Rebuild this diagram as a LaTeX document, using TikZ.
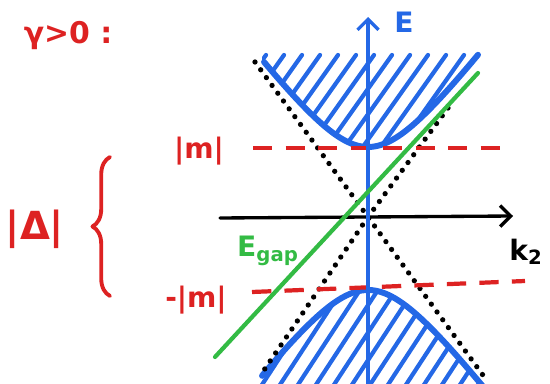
\documentclass[tikz,border=0pt]{standalone}
\usepackage{fontspec}
\setmainfont{DejaVu Sans}
\usetikzlibrary{arrows.meta, positioning, calc, decorations.pathreplacing}
\definecolor{penblue}{HTML}{2468E6}
\definecolor{penred}{HTML}{DD2222}
\definecolor{pengreen}{HTML}{33BB44}

\begin{document}
\begin{tikzpicture}[
  x=0.02cm, y=-0.02cm,
  declare function={upper(\x)=217-100*sqrt(0.49+1.77*((\x-368)/100)^2);
                    lower(\x)=217+100*sqrt(0.5329+1.77*((\x-368)/100)^2);},
  marker/.style={line width=#1, line cap=round, line join=round},
  marker/.default=2pt,
  axis/.style={marker=1.9pt, -{Straight Barb[length=6pt,width=12pt,line width=1.9pt]}},
  band/.style={penblue, marker=3.4pt},
  hatch/.style={penblue, marker=2.4pt},
  level/.style={penred, line width=2.4pt, dash pattern=on 11pt off 7.5pt},
  cone/.style={black, line width=3pt, line cap=round, dash pattern=on 0pt off 5.5pt},
  lbl/.style={font=\fontsize{16}{16}\selectfont\bfseries, inner sep=1pt},
]
\useasboundingbox (0,0) rectangle (550,384);

%% Reference points
\coordinate (origin) at (368,217);

%% Upper band, hatched
\begin{scope}
  \clip plot[domain=262:480, samples=60] (\x,{upper(\x)}) -- (480,0) -- (262,0) -- cycle;
  \foreach \o in {188,206,...,420}
    \draw[hatch] (\o,165) -- (\o+78,55);
\end{scope}
\draw[band] plot[domain=264:478, samples=60] (\x,{upper(\x)});

%% Lower band, hatched
\begin{scope}
  \clip plot[domain=256:492, samples=60] (\x,{lower(\x)}) -- (492,400) -- (256,400) -- cycle;
  \foreach \o in {180,198,...,470}
    \draw[hatch] (\o,400) -- (\o+85,270);
\end{scope}
\draw[band] plot[domain=262:486, samples=60] (\x,{lower(\x)});

%% Dirac cone (dotted)
\coordinate (coneA1) at (255,62);
\coordinate (coneA2) at (485,378);
\coordinate (coneB1) at (448,108);
\coordinate (coneB2) at (262,373);
\draw[cone] (coneA1) -- (origin) -- (coneA2);
\draw[cone] (coneB1) -- (origin) -- (coneB2);

%% Mass levels
\coordinate (mtopL) at (253,148);
\coordinate (mtopR) at (510,148);
\coordinate (mbotL) at (252,292);
\coordinate (mbotR) at (525,281);
\draw[level] (mtopL) -- (mtopR);
\draw[level] (mbotL) -- (mbotR);

%% Axes
\coordinate (Ebot) at (368,384);
\coordinate (Etop) at (368,17);
\coordinate (kleft) at (220,218);
\coordinate (kright) at (513,216);
\draw[axis, black] (kleft) -- (kright);
\draw[axis, penblue] (Ebot) -- (Etop);

%% Gap line
\coordinate (gapL) at (215,357);
\coordinate (gapR) at (478,73);
\draw[pengreen, marker=2.4pt] (gapL) -- (gapR);

%% Labels
\node[lbl, penblue] (Elbl) at (404,22) {E};
\node[lbl, black] (klbl) at (526,252) {k\textsubscript{2}};
\node[lbl, pengreen] (gaplbl) at (268,251) {E\textsubscript{gap}};
\node[lbl, penred] (mtop) at (199,151) {|m|};
\node[lbl, penred] (mbot) at (196,300) {-|m|};
\node[lbl, penred, font=\fontsize{22}{22}\selectfont\bfseries] (delta) at (35,229) {|Δ|};
\node[lbl, penred, font=\fontsize{17}{17}\selectfont\bfseries] (cond) at (68,36) {γ>0 :};

%% Brace
\coordinate (braceB) at (110,296);
\coordinate (braceT) at (110,157);
\draw[penred, marker=2.2pt, decorate, decoration={brace, amplitude=10pt}] (braceB) -- (braceT);
\end{tikzpicture}
\end{document}
